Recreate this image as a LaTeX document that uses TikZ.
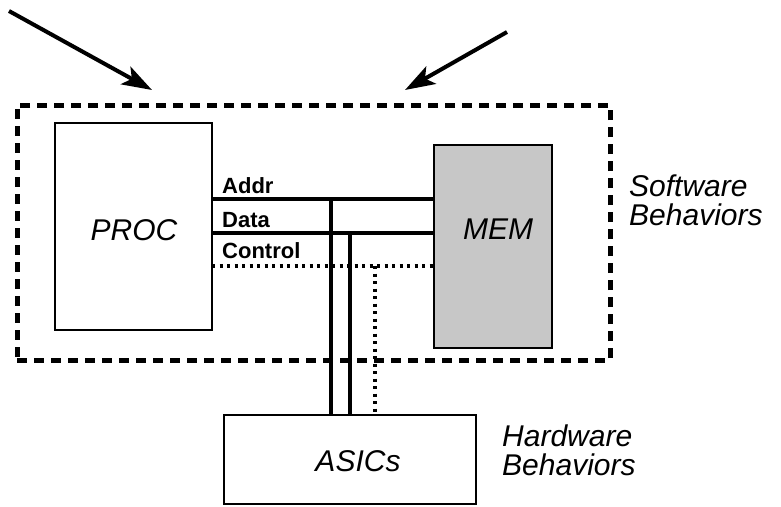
\documentclass[tikz,border=0pt]{standalone}
\usepackage{fontspec}
\setmainfont{Liberation Sans}
\usetikzlibrary{arrows.meta}
\begin{document}
\begin{tikzpicture}[x=1pt,y=-1pt,
 box/.style={draw, line width=2.6pt, inner sep=0pt, font=\fontsize{30}{36}\selectfont\itshape},
 txt/.style={inner sep=0pt, font=\fontsize{30}{36}\selectfont\itshape},
 bus/.style={line width=4pt},
 ctrl/.style={line width=4pt, dash pattern=on 3pt off 4.5pt},
 region/.style={draw, line width=5pt, dash pattern=on 10pt off 7pt, inner sep=0pt},
 lbl/.style={font=\fontsize{22}{26}\selectfont\bfseries, anchor=base west, inner sep=0pt},
 beh/.style={font=\fontsize{30}{29}\selectfont\itshape, align=left, anchor=north west, inner sep=0pt},
 bigarrow/.style={line width=4pt, -{Stealth[length=30pt,width=20pt,inset=7pt]}}]
\useasboundingbox (0,0) rectangle (781,506);
% software region
\node[region, minimum width=593pt, minimum height=255pt] (sw) at (313.5,232.5) {};
% boxes
\node[box, minimum width=157pt, minimum height=207pt] (proc) at (133.5,226.5) {};
\node[txt] (proctxt) at (134,230) {PROC};
\node[box, fill=black!22, minimum width=118pt, minimum height=203pt] (mem) at (493,246.5) {};
\node[txt] (memtxt) at (498,229) {MEM};
\node[box, minimum width=252pt, minimum height=89pt] (asics) at (350,459.5) {};
\node[txt] (asicstxt) at (358,461) {ASICs};
% bus junction coordinates
\coordinate (pa) at (212,199);
\coordinate (pd) at (212,233);
\coordinate (pc) at (212,266);
\coordinate (ja) at (331,199);
\coordinate (jd) at (350,233);
\coordinate (jc) at (375,266);
% buses
\draw[bus] (pa) -- (pa -| mem.west);
\draw[bus] (pd) -- (pd -| mem.west);
\draw[ctrl] (pc) -- (pc -| mem.west);
\draw[bus] (ja) -- (ja |- asics.north);
\draw[bus] (jd) -- (jd |- asics.north);
\draw[ctrl] (jc) -- (jc |- asics.north);
% bus labels
\node[lbl] (addr) at (222,193) {Addr};
\node[lbl] (data) at (222,227) {Data};
\node[lbl] (control) at (222,258) {Control};
% behaviour labels
\node[beh] (swl) at (629,175) {Software\\Behaviors};
\node[beh] (hwl) at (502,425) {Hardware\\Behaviors};
% arrows
\coordinate (a1s) at (9,11);
\coordinate (a1e) at (152,90);
\coordinate (a2s) at (507,32);
\coordinate (a2e) at (405,90);
\draw[bigarrow] (a1s) -- (a1e);
\draw[bigarrow] (a2s) -- (a2e);
\end{tikzpicture}
\end{document}
